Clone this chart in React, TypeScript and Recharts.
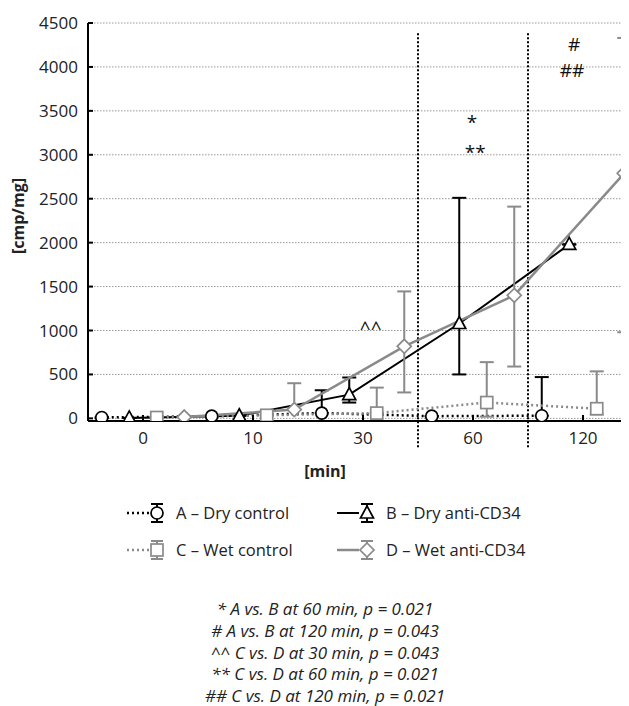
import React from 'react'
import {
  ComposedChart,
  Line,
  Scatter,
  XAxis,
  YAxis,
  CartesianGrid,
  ErrorBar,
  ReferenceLine,
} from 'recharts'

const TIME_LABELS = ['0', '10', '30', '60', '120']

// A - Dry control
const DRY_CONTROL = [10, 25, 60, 25, 30]
const DRY_CONTROL_LOW = [0, 0, 0, 0, 0]
const DRY_CONTROL_HIGH = [0, 0, 260, 0, 440]

// B - Dry anti-CD34
const DRY_ANTI = [5, 30, 270, 1080, 1980]
const DRY_ANTI_LOW = [0, 0, 90, 580, 0]
const DRY_ANTI_HIGH = [0, 0, 195, 1430, 0]

// C - Wet control
const WET_CONTROL = [10, 35, 60, 180, 110]
const WET_CONTROL_LOW = [0, 0, 0, 160, 65]
const WET_CONTROL_HIGH = [0, 0, 290, 460, 425]

// D - Wet anti-CD34
const WET_ANTI = [15, 100, 820, 1400, 2790]
const WET_ANTI_LOW = [0, 0, 525, 810, 1810]
const WET_ANTI_HIGH = [0, 300, 625, 1010, 1540]

// significance marks (x in category units, y in cmp/mg)
const MARK_TEXT = ['^^', '*', '**', '#', '##']
const MARK_X = [2.07, 2.99, 3.02, 3.92, 3.9]
const MARK_Y = [1030, 3375, 3030, 4260, 3965]

const Y_TICKS = [0, 500, 1000, 1500, 2000, 2500, 3000, 3500, 4000, 4500]

const FOOTNOTES = [
  '* A vs. B at 60 min, p = 0.021',
  '# A vs. B at 120 min, p = 0.043',
  '^^ C vs. D at 30 min, p = 0.043',
  '** C vs. D at 60 min, p = 0.021',
  '## C vs. D at 120 min, p = 0.021',
]

const GRAY = '#8a8a8a'
const FONT = '"Open Sans", "Noto Sans", sans-serif'

const build = (vals: number[], low: number[], high: number[], offset: number) =>
  vals.map((v, i) => ({ x: i + offset, y: v, err: [low[i], high[i]] }))

const markData = MARK_TEXT.map((t, i) => ({ x: MARK_X[i], y: MARK_Y[i], t }))

type Shape = 'circle' | 'triangle' | 'square' | 'diamond'

function marker(shape: Shape, cx: number, cy: number, color: string, key?: string | number) {
  const sw = 1.7
  if (shape === 'circle') return <circle key={key} cx={cx} cy={cy} r={6} fill="#fff" stroke={color} strokeWidth={sw} />
  if (shape === 'square') return <rect key={key} x={cx - 6} y={cy - 6} width={12} height={12} fill="#fff" stroke={color} strokeWidth={sw} />
  if (shape === 'triangle')
    return <polygon key={key} points={`${cx},${cy - 7} ${cx + 6.5},${cy + 5} ${cx - 6.5},${cy + 5}`} fill="#fff" stroke={color} strokeWidth={sw} />
  return <polygon key={key} points={`${cx},${cy - 7} ${cx + 7},${cy} ${cx},${cy + 7} ${cx - 7},${cy}`} fill="#fff" stroke={color} strokeWidth={sw} />
}

const dotFor = (shape: Shape, color: string) => (p: any) => {
  if (p.cx == null || p.cy == null) return <g key={p.key ?? p.index} />
  return marker(shape, p.cx, p.cy, color, p.key ?? p.index)
}

const SERIES = [
  { name: 'A', label: 'A – Dry control', data: build(DRY_CONTROL, DRY_CONTROL_LOW, DRY_CONTROL_HIGH, -0.375), color: '#000', dash: '2 3', width: 2.5, shape: 'circle' as Shape },
  { name: 'B', label: 'B – Dry anti-CD34', data: build(DRY_ANTI, DRY_ANTI_LOW, DRY_ANTI_HIGH, -0.125), color: '#000', dash: undefined, width: 2, shape: 'triangle' as Shape },
  { name: 'C', label: 'C – Wet control', data: build(WET_CONTROL, WET_CONTROL_LOW, WET_CONTROL_HIGH, 0.125), color: GRAY, dash: '2 3', width: 2.5, shape: 'square' as Shape },
  { name: 'D', label: 'D – Wet anti-CD34', data: build(WET_ANTI, WET_ANTI_LOW, WET_ANTI_HIGH, 0.375), color: GRAY, dash: undefined, width: 2.5, shape: 'diamond' as Shape },
]

function LegendItem({ s, x, y }: { s: (typeof SERIES)[number]; x: number; y: number }) {
  const mx = x + 30
  return (
    <g>
      <line x1={x} y1={y} x2={x + 22} y2={y} stroke={s.color} strokeWidth={s.width} strokeDasharray={s.dash} />
      <line x1={mx} y1={y - 9} x2={mx} y2={y + 9} stroke={s.color} strokeWidth={2} />
      <line x1={mx - 6} y1={y - 9} x2={mx + 6} y2={y - 9} stroke={s.color} strokeWidth={2} />
      <line x1={mx - 6} y1={y + 9} x2={mx + 6} y2={y + 9} stroke={s.color} strokeWidth={2} />
      {marker(s.shape, mx, y, s.color)}
      <text x={x + 49} y={y + 6} fontSize={16.5} fill="#222" fontFamily={FONT}>
        {s.label}
      </text>
    </g>
  )
}

export default function App() {
  return (
    <div style={{ position: 'relative', width: 621, height: 698, overflow: 'hidden', fontFamily: FONT, color: '#222' }}>
      <ComposedChart width={640} height={445} margin={{ top: 15, right: 10, bottom: 0, left: 0 }}>
        <CartesianGrid vertical={false} stroke="#999" strokeDasharray="1.5 1.5" strokeWidth={1} />
        <XAxis
          dataKey="x"
          type="number"
          domain={[-0.5, 4.5]}
          ticks={[0, 1, 2, 3, 4]}
          tickFormatter={(v: number) => TIME_LABELS[v] ?? ''}
          height={32}
          stroke="#000"
          strokeWidth={2}
          tickSize={-6}
          tickMargin={17}
          tick={{ fill: '#222', fontSize: 17, fontFamily: FONT }}
          allowDataOverflow
        />
        <XAxis
          xAxisId="top"
          orientation="top"
          type="number"
          domain={[-0.5, 4.5]}
          ticks={[0, 1, 2, 3, 4]}
          tickFormatter={() => ''}
          height={0}
          stroke="#000"
          strokeWidth={2}
          tickSize={-6}
          allowDataOverflow
        />
        <YAxis
          type="number"
          domain={[-30, 4500]}
          ticks={Y_TICKS}
          width={80}
          stroke="#000"
          strokeWidth={2}
          tickSize={-5}
          tickMargin={15}
          tick={{ fill: '#222', fontSize: 17, fontFamily: FONT }}
          allowDataOverflow
        />
        <ReferenceLine
          segment={[{ x: 2.5, y: -330 }, { x: 2.5, y: 4400 }]}
          stroke="#000"
          strokeWidth={2}
          strokeDasharray="2 2"
          ifOverflow="visible"
        />
        <ReferenceLine
          segment={[{ x: 3.5, y: -330 }, { x: 3.5, y: 4400 }]}
          stroke="#000"
          strokeWidth={2}
          strokeDasharray="2 2"
          ifOverflow="visible"
        />
        {SERIES.map((s) => (
          <Line
            key={s.name}
            data={s.data}
            dataKey="y"
            type="linear"
            stroke={s.color}
            strokeWidth={s.width}
            strokeDasharray={s.dash}
            dot={dotFor(s.shape, s.color)}
            activeDot={false}
            isAnimationActive={false}
          >
            <ErrorBar dataKey="err" direction="y" width={7} stroke={s.color} strokeWidth={2} isAnimationActive={false} />
          </Line>
        ))}
        <Scatter
          data={markData}
          dataKey="y"
          isAnimationActive={false}
          shape={(p: any) => (
            <text x={p.cx} y={p.cy + 7} textAnchor="middle" fontSize={19} fill="#111" fontFamily={FONT}>
              {p.payload.t}
            </text>
          )}
        />
      </ComposedChart>

      <div
        style={{
          position: 'absolute',
          left: 10,
          top: 208,
          transform: 'translate(-50%, -50%) rotate(-90deg)',
          fontWeight: 'bold',
          fontSize: 16,
          whiteSpace: 'nowrap',
        }}
      >
        [cmp/mg]
      </div>

      <div style={{ position: 'absolute', left: 0, width: 634, top: 452, textAlign: 'center', fontWeight: 'bold', fontSize: 16 }}>
        [min]
      </div>

      <svg style={{ position: 'absolute', left: 0, top: 480 }} width={621} height={80}>
        <LegendItem s={SERIES[0]} x={119} y={25} />
        <LegendItem s={SERIES[1]} x={329} y={25} />
        <LegendItem s={SERIES[2]} x={119} y={62} />
        <LegendItem s={SERIES[3]} x={329} y={62} />
      </svg>

      <div style={{ position: 'absolute', left: 0, width: 634, top: 590, textAlign: 'center', fontStyle: 'italic', fontSize: 17, lineHeight: '21.8px' }}>
        {FOOTNOTES.map((f) => (
          <div key={f}>{f}</div>
        ))}
      </div>
    </div>
  )
}
